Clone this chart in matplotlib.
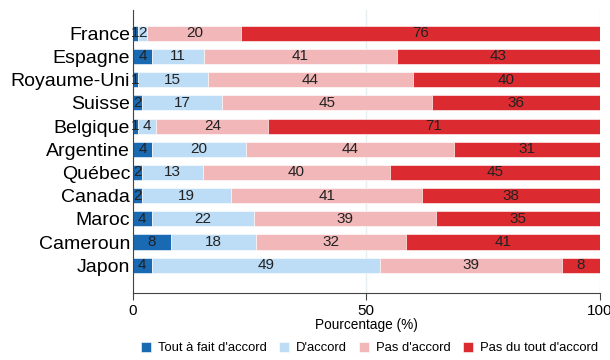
import numpy as np
import matplotlib.pyplot as plt

plt.rcParams['font.family'] = ['Liberation Sans', 'DejaVu Sans']

pays = ['France', 'Espagne', 'Royaume-Uni', 'Suisse', 'Belgique', 'Argentine',
        'Québec', 'Canada', 'Maroc', 'Cameroun', 'Japon']
tout_a_fait = [1, 4, 1, 2, 1, 4, 2, 2, 4, 8, 4]
d_accord = [2, 11, 15, 17, 4, 20, 13, 19, 22, 18, 49]
pas_accord = [20, 41, 44, 45, 24, 44, 40, 41, 39, 32, 39]
pas_du_tout = [76, 43, 40, 36, 71, 31, 45, 38, 35, 41, 8]

categories = ["Tout à fait d'accord", "D'accord", "Pas d'accord", "Pas du tout d'accord"]
couleurs = ['#1a6ab3', '#bddcf5', '#f2b8b9', '#dc2b30']

series = np.array([tout_a_fait, d_accord, pas_accord, pas_du_tout], dtype=float)
# les barres vont toutes jusqu'à 100 (valeurs arrondies dans les étiquettes)
parts = series / series.sum(axis=0) * 100

fig = plt.figure(figsize=(6.1, 3.6), dpi=100)
ax = fig.add_axes([0.218, 0.186, 0.765, 0.786])

y = np.arange(len(pays))
gauche = np.zeros(len(pays))
for k in range(4):
    ax.barh(y, parts[k], left=gauche, height=0.65, color=couleurs[k],
            edgecolor='white', linewidth=0.4, label=categories[k], zorder=2)
    for i in range(len(pays)):
        ax.text(gauche[i] + parts[k][i] / 2, y[i], str(int(series[k][i])),
                ha='center', va='center', fontsize=11, color='#222222', zorder=3)
    gauche += parts[k]

ax.set_yticks(y)
ax.set_yticklabels(pays, fontsize=14)
ax.tick_params(axis='y', length=0, pad=2)
ax.set_ylim(len(pays) - 1 + 1.2, -1.0)

ax.set_xlim(0, 100)
ax.set_xticks([0, 50, 100])
ax.tick_params(axis='x', labelsize=11, length=5, color='#444444', pad=3)
ax.set_xlabel('Pourcentage (%)', fontsize=9.8, labelpad=0)
ax.xaxis.grid(True, color='#e6eef2', linewidth=1, zorder=0)
ax.set_axisbelow(True)

for s in ['top', 'right']:
    ax.spines[s].set_visible(False)
ax.spines['left'].set_color('#444444')
ax.spines['bottom'].set_color('#444444')

fig.legend(loc='center', bbox_to_anchor=(0.606, 0.033), ncol=4, frameon=False,
           fontsize=9.4, handlelength=0.75, handleheight=0.75, handletextpad=0.55,
           columnspacing=0.95, borderpad=0.2)

fig.savefig('out.png', dpi=100)
